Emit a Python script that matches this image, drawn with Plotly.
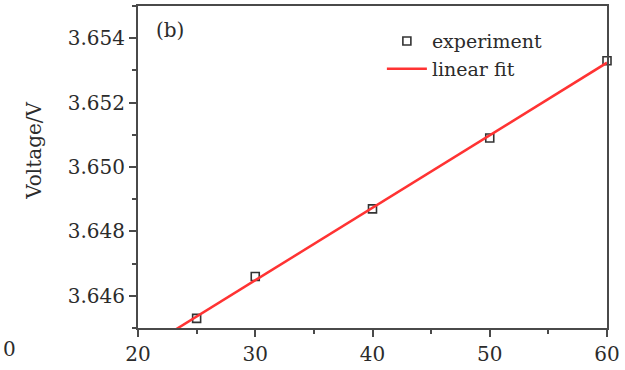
import numpy as np
import plotly.graph_objects as go

# Measured terminal voltage vs temperature
temperature = [25, 30, 40, 50, 60]
voltage = [3.6453, 3.6466, 3.6487, 3.6509, 3.6533]

x_ticks = [20, 30, 40, 50, 60]
y_ticks = [3.646, 3.648, 3.650, 3.652, 3.654]

# Least-squares straight line through the measurements
slope, intercept = np.polyfit(temperature, voltage, 1)
fit_x = np.array([20.0, 60.0])
fit_y = slope * fit_x + intercept

FONT = "DejaVu Serif"
AXIS_COLOR = "#4a4a4a"
TEXT_COLOR = "#2b2b2b"

fig = go.Figure()
fig.add_trace(go.Scatter(
    x=temperature, y=voltage, mode="markers", name="experiment",
    marker=dict(symbol="square-open", size=8, color="#333333",
                line=dict(width=1.6, color="#333333")),
    cliponaxis=False,
))
fig.add_trace(go.Scatter(
    x=fit_x, y=fit_y, mode="lines", name="linear fit",
    line=dict(color="#ff3333", width=2.5),
))

axis_common = dict(
    showline=True, linecolor=AXIS_COLOR, linewidth=2, mirror=True,
    ticks="outside", ticklen=7, tickwidth=1.5, tickcolor=AXIS_COLOR,
    showgrid=False, zeroline=False,
    tickfont=dict(family=FONT, size=20, color=TEXT_COLOR),
)

fig.update_xaxes(
    range=[20, 60], tickvals=x_ticks, ticktext=[str(v) for v in x_ticks],
    minor=dict(dtick=5, ticks="outside", ticklen=4, tickcolor=AXIS_COLOR, tickwidth=1.5),
    **axis_common,
)
fig.update_yaxes(
    range=[3.645, 3.655], tickvals=y_ticks, ticktext=[f"{v:.3f}" for v in y_ticks],
    minor=dict(dtick=0.001, ticks="outside", ticklen=4, tickcolor=AXIS_COLOR, tickwidth=1.5),
    **axis_common,
)

# y-axis title, set slightly above the middle of the axis
fig.add_annotation(
    text="Voltage/V", xref="paper", yref="paper", x=-0.222, y=0.55,
    xanchor="center", yanchor="middle", textangle=-90, showarrow=False,
    font=dict(family=FONT, size=20, color=TEXT_COLOR),
)
fig.add_annotation(
    text="(b)", xref="paper", yref="paper", x=0.035, y=0.925,
    xanchor="left", yanchor="middle", showarrow=False,
    font=dict(family=FONT, size=20, color=TEXT_COLOR),
)
# tick label of the neighbouring panel at the left edge
fig.add_annotation(
    text="0", xref="paper", yref="paper", x=-0.293, y=-0.065,
    xanchor="left", yanchor="middle", showarrow=False,
    font=dict(family=FONT, size=20, color=TEXT_COLOR),
)

fig.update_layout(
    width=625, height=370,
    margin=dict(l=138, r=18, t=4, b=37),
    paper_bgcolor="white", plot_bgcolor="white",
    showlegend=True,
    legend=dict(
        x=0.52, y=0.95, xanchor="left", yanchor="top",
        bgcolor="rgba(0,0,0,0)", borderwidth=0,
        font=dict(family=FONT, size=19, color=TEXT_COLOR),
        itemwidth=40, tracegroupgap=0,
    ),
)

fig.write_html("out.html")
